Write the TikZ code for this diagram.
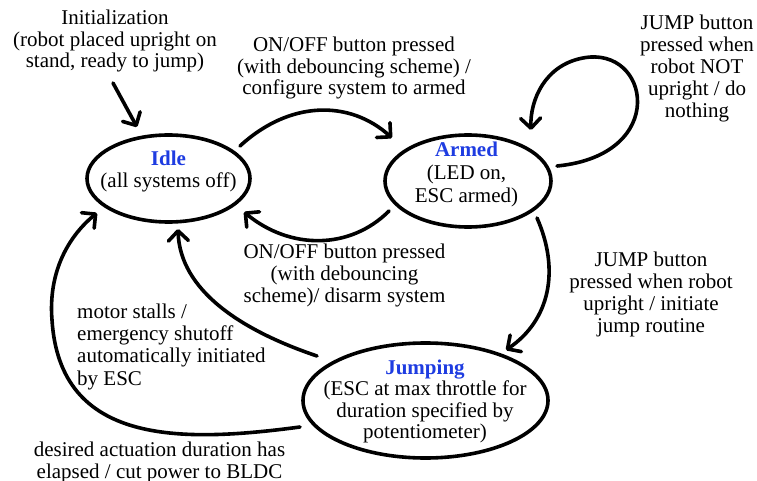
\documentclass[tikz,border=0pt]{standalone}
\usepackage{fontspec}
\setmainfont{Liberation Serif}
\usetikzlibrary{arrows.meta,shapes.geometric}
\definecolor{stateblue}{RGB}{30,60,225}
\tikzset{
  statebox/.style={ellipse, draw=black, line width=3.6pt, inner sep=0pt, outer sep=0pt},
  txt/.style={align=center, inner sep=0pt, anchor=base, font=\fontsize{21}{21.5}\selectfont},
  ltxt/.style={align=left, inner sep=0pt, anchor=base west, font=\fontsize{21}{22.3}\selectfont},
  conn/.style={line width=3.6pt, line cap=round, -{Straight Barb[length=10pt,width=20pt,line cap=round,line join=round]}},
}
\begin{document}
\begin{tikzpicture}[x=1pt,y=-1pt]
\useasboundingbox (0,0) rectangle (757,481);
% states
\node[statebox, minimum width=163pt, minimum height=87pt] (idle) at (168.5,178.5) {};
\node[statebox, minimum width=166pt, minimum height=92pt] (armed) at (468,181) {};
\node[statebox, minimum width=245pt, minimum height=115pt] (jump) at (425.5,400.5) {};
\node[txt] (idletxt) at (168.5,187) {\textcolor{stateblue}{\textbf{Idle}}\\(all systems off)};
\node[txt, font=\fontsize{21}{22.5}\selectfont] (armedtxt) at (466.5,202) {\textcolor{stateblue}{\textbf{Armed}}\\(LED on,\\ESC armed)};
\node[txt] (jumptxt) at (425,438.5) {\textcolor{stateblue}{\textbf{Jumping}}\\(ESC at max throttle for\\duration specified by\\potentiometer)};
% labels
\node[txt] (initlbl) at (115,68) {Initialization\\(robot placed upright on\\stand, ready to jump)};
\node[txt] (onlbl) at (354,95) {ON/OFF button pressed\\(with debouncing scheme) /\\configure system to armed};
\node[txt, font=\fontsize{21}{22}\selectfont] (noplbl) at (697,118) {JUMP button\\pressed when\\robot NOT\\upright / do\\nothing};
\node[txt, font=\fontsize{21}{22}\selectfont] (offlbl) at (344.5,302) {ON/OFF button pressed\\(with debouncing\\scheme)/ disarm system};
\node[txt, font=\fontsize{21}{21.7}\selectfont] (jumplbl) at (651,332) {JUMP button\\pressed when robot\\upright / initiate\\jump routine};
\node[ltxt] (stalllbl) at (77,385) {motor stalls /\\emergency shutoff\\automatically initiated\\by ESC};
\node[txt] (durlbl) at (159.5,478) {desired actuation duration has\\elapsed / cut power to BLDC};
% connectors
\coordinate (initstart) at (113,83);
\draw[conn] (initstart) -- ([shift={(-31.5,-51.5)}]idle.center);
\draw[conn] ([shift={(71.5,-32.5)}]idle.center) .. controls (290,100) and (350,100) .. ([shift={(-76,-43)}]armed.center);
\draw[conn] ([shift={(-79,30)}]armed.center) .. controls (350,250) and (290,250) .. ([shift={(75.5,33.5)}]idle.center);
\draw[conn] ([shift={(89,-15)}]armed.center) .. controls (670,155) and (650,45) .. (583,58) .. controls (545,65) and (530,100) .. ([shift={(63,-51)}]armed.center);
\draw[conn] ([shift={(69,37)}]armed.center) .. controls (560,270) and (550,320) .. ([shift={(80.5,-50.5)}]jump.center);
\draw[conn] ([shift={(-108.5,-44.5)}]jump.center) .. controls (240,330) and (180,290) .. ([shift={(9.5,50.5)}]idle.center);
\draw[conn] ([shift={(-125.5,26.5)}]jump.center) .. controls (180,443) and (60,445) .. (52,320) .. controls (48,270) and (70,235) .. ([shift={(-71.5,34.5)}]idle.center);
\end{tikzpicture}
\end{document}
